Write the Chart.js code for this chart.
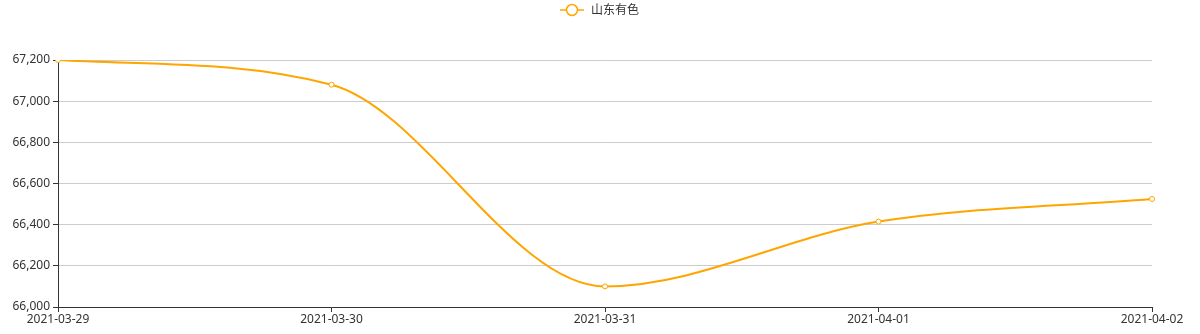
<!DOCTYPE html>
<html>
<head>
<meta charset="utf-8">
<script src="https://cdn.jsdelivr.net/npm/chart.js@4/dist/chart.umd.min.js"></script>
<style>
  html, body { margin: 0; padding: 0; background: #fff; }
  #wrap { width: 1200px; height: 334px; }
</style>
</head>
<body>
<div id="wrap"><canvas id="chart"></canvas></div>
<script>
const seriesName = '山东有色';
const dates = ['2021-03-29', '2021-03-30', '2021-03-31', '2021-04-01', '2021-04-02'];
const prices = [67200, 67080, 66100, 66415, 66525];
const yMin = 66000;
const yMax = 67200;
const yStep = 200;

const lineColor = '#ffa500';
const fontFamily = "'Noto Sans', 'Noto Sans CJK SC', sans-serif";

// legend drawn by hand: line with a hollow circle, then the name
const topLegend = {
    id: 'topLegend',
    afterDraw(chart) {
        const c = chart.ctx;
        const cx = 572;
        const cy = 10;
        c.save();
        c.strokeStyle = lineColor;
        c.lineWidth = 1.5;
        c.beginPath();
        c.moveTo(cx - 12, cy);
        c.lineTo(cx + 12, cy);
        c.stroke();
        c.fillStyle = '#fff';
        c.beginPath();
        c.arc(cx, cy, 5.5, 0, Math.PI * 2);
        c.fill();
        c.stroke();
        c.fillStyle = '#333';
        c.font = '12px ' + fontFamily;
        c.textBaseline = 'middle';
        c.textAlign = 'left';
        c.fillText(seriesName, cx + 19, cy + 1);
        c.restore();
    }
};

const ctx = document.getElementById('chart').getContext('2d');

new Chart(ctx, {
    type: 'line',
    data: {
        labels: dates,
        datasets: [{
            label: seriesName,
            data: prices,
            borderColor: lineColor,
            borderWidth: 2,
            backgroundColor: '#fff',
            pointBackgroundColor: '#fff',
            pointBorderColor: lineColor,
            pointBorderWidth: 1,
            pointRadius: 2.5,
            cubicInterpolationMode: 'monotone',
            fill: false
        }]
    },
    options: {
        responsive: true,
        maintainAspectRatio: false,
        animation: false,
        layout: { padding: { top: 60, right: 48, left: 0, bottom: 0 } },
        plugins: {
            legend: { display: false },
            tooltip: { enabled: false }
        },
        scales: {
            x: {
                offset: false,
                grid: {
                    display: true,
                    drawOnChartArea: false,
                    tickColor: '#333',
                    tickLength: 5
                },
                border: { color: '#333', width: 1 },
                ticks: {
                    color: '#333',
                    font: { size: 12, family: fontFamily },
                    padding: 0,
                    maxRotation: 0,
                    autoSkip: false
                },
                afterFit(scale) { scale.height = 27; }
            },
            y: {
                min: yMin,
                max: yMax,
                grid: {
                    color: '#ccc',
                    tickColor: '#333',
                    tickLength: 5
                },
                border: { color: '#333', width: 1 },
                ticks: {
                    stepSize: yStep,
                    color: '#333',
                    font: { size: 12, family: fontFamily },
                    padding: 3
                },
                afterFit(scale) { scale.width = 58; }
            }
        }
    },
    plugins: [topLegend]
});
</script>
</body>
</html>
